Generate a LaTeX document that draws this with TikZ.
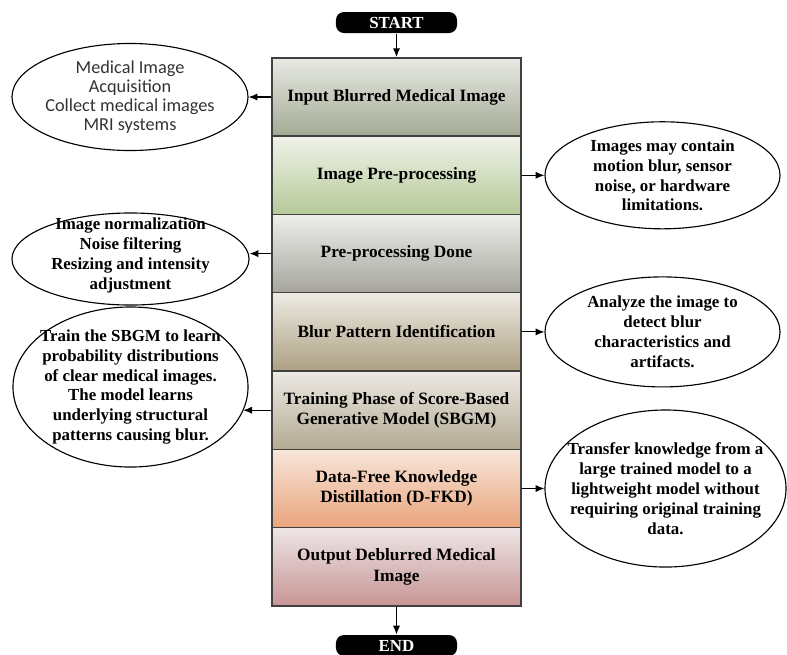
\documentclass[tikz,border=0pt]{standalone}
\usepackage{fontspec}
\setmainfont{Liberation Serif}
\newfontfamily\notefont{Carlito}
\usetikzlibrary{shapes.geometric,arrows.meta}

% fills of the stages (top / bottom)
\definecolor{inTop}{HTML}{E8EAE4}\definecolor{inBot}{HTML}{A3AA94}
\definecolor{preTop}{HTML}{F0F3EA}\definecolor{preBot}{HTML}{B5C998}
\definecolor{doneTop}{HTML}{EEEEEC}\definecolor{doneBot}{HTML}{A5A59D}
\definecolor{blurTop}{HTML}{EEEBE3}\definecolor{blurBot}{HTML}{ADA083}
\definecolor{trainTop}{HTML}{ECE9E3}\definecolor{trainBot}{HTML}{B3AA92}
\definecolor{kdTop}{HTML}{F7E6DA}\definecolor{kdBot}{HTML}{E9A47C}
\definecolor{outTop}{HTML}{EEE6E6}\definecolor{outBot}{HTML}{C79494}

\begin{document}
\begin{tikzpicture}[x=0.025cm, y=-0.025cm, thick,
    stage/.style={draw=black!75, line width=1pt, minimum width=6.225cm,
        minimum height=1.96cm, inner sep=2pt, align=center,
        font=\fontsize{12.3}{14.5}\selectfont\bfseries},
    note/.style={draw, ellipse, line width=0.8pt, inner sep=0pt},
    notetext/.style={inner sep=0pt, align=center,
        font=\fontsize{12}{14.2}\selectfont\bfseries},
    pill/.style={fill=black, rounded corners=0.2cm, minimum width=3.025cm,
        minimum height=0.525cm, inner sep=0pt, text=white,
        font=\fontsize{12}{14}\selectfont\bfseries},
    arr/.style={-{Latex[length=2.2mm,width=1.8mm]}, line width=0.8pt}]
    \useasboundingbox (0,0) rectangle (787,654);

    % Inizio e fine
    \node[pill] (start) at (396.5,22.5) {START};
    \node[pill] (end) at (396.5,645.5) {END};

    % Fasi (colonna centrale)
    \node[stage, top color=inTop, bottom color=inBot] (b1) at (396.5,97) {Input Blurred Medical Image};
    \node[stage, top color=preTop, bottom color=preBot] (b2) at (396.5,175.3) {Image Pre-processing};
    \node[stage, top color=doneTop, bottom color=doneBot] (b3) at (396.5,253.6) {Pre-processing Done};
    \node[stage, top color=blurTop, bottom color=blurBot] (b4) at (396.5,331.9) {Blur Pattern Identification};
    \node[stage, top color=trainTop, bottom color=trainBot] (b5) at (396.5,410.2) {Training Phase of Score-Based\\Generative Model (SBGM)};
    \node[stage, top color=kdTop, bottom color=kdBot] (b6) at (396.5,488.5) {Data-Free Knowledge\\Distillation (D-FKD)};
    \node[stage, top color=outTop, bottom color=outBot] (b7) at (396.5,566.8) {Output Deblurred Medical\\Image};

    % Note a sinistra
    \node[note, minimum width=5.9cm, minimum height=2.675cm] (e1) at (130,97) {};
    \node[notetext, font=\fontsize{13}{13.5}\selectfont\notefont, text=black!80] (t1) at (e1)
        {Medical Image\\Acquisition\\Collect medical images\\MRI systems};
    \node[note, minimum width=5.925cm, minimum height=2.3cm] (e3) at (130.5,259) {};
    \node[notetext] (t3) at (130.5,255)
        {Image normalization\\Noise filtering\\Resizing and intensity\\adjustment};
    \node[note, minimum width=5.875cm, minimum height=4cm] (e5) at (130.5,387) {};
    \node[notetext] (t5) at (e5)
        {Train the SBGM to learn\\probability distributions\\of clear medical images.\\The model learns\\underlying structural\\patterns causing blur.};

    % Note a destra
    \node[note, minimum width=5.875cm, minimum height=2.675cm] (e2) at (662.5,175.3) {};
    \node[notetext] (t2) at (e2)
        {Images may contain\\motion blur, sensor\\noise, or hardware\\limitations.};
    \node[note, minimum width=5.875cm, minimum height=2.75cm] (e4) at (662.5,331.9) {};
    \node[notetext] (t4) at (e4)
        {Analyze the image to\\detect blur\\characteristics and\\artifacts.};
    \node[note, minimum width=6.025cm, minimum height=3.925cm] (e6) at (665.5,488.5) {};
    \node[notetext] (t6) at (e6)
        {Transfer knowledge from a\\large trained model to a\\lightweight model without\\requiring original training\\data.};

    % Frecce
    \draw[arr] (start) -- (b1);
    \draw[arr] (b7) -- (end);
    \draw[arr] (b1.west) -- (e1.east);
    \draw[arr] (b3.west) -- (b3.west -| e3.east);
    \draw[arr] (b5.west) -- (b5.west -| e5.-12);
    \draw[arr] (b2.east) -- (e2.west);
    \draw[arr] (b4.east) -- (e4.west);
    \draw[arr] (b6.east) -- (e6.west);
\end{tikzpicture}
\end{document}
